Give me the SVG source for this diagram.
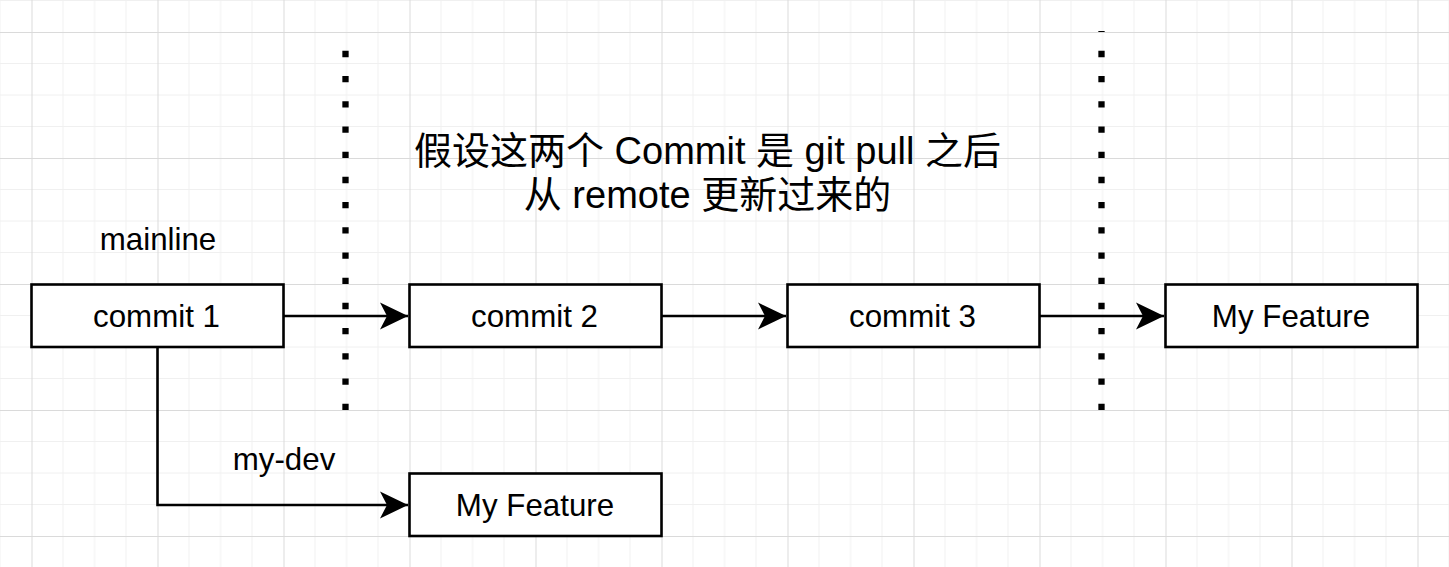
<svg xmlns="http://www.w3.org/2000/svg" width="1449" height="567" viewBox="0 0 1449 567">
  <style>
    .box { fill: #ffffff; stroke: #000000; stroke-width: 2.6; }
    .lbl { font-family: "Liberation Sans", "Noto Sans CJK SC", Arial, sans-serif; font-size: 31.3px; fill: #000000; text-anchor: middle; }
    .title { font-family: "Liberation Sans", "Noto Sans CJK SC", Arial, sans-serif; font-size: 38px; fill: #000000; text-anchor: middle; }
    .edge { fill: none; stroke: #000000; stroke-width: 2.6; }
    .dots { fill: none; stroke: #000000; stroke-width: 6.3; stroke-dasharray: 6.3 18.9; }
    .minor { stroke: #f0f0f0; stroke-width: 1; }
    .major { stroke: #dadada; stroke-width: 1; }
  </style>
  <defs>
    <pattern id="grid" patternUnits="userSpaceOnUse" x="31.5" y="32" width="126" height="126">
      <path class="minor" d="M31.5,0 V126 M63,0 V126 M94.5,0 V126 M0,31.5 H126 M0,63 H126 M0,94.5 H126"/>
      <path class="major" d="M0.5,0 V126 M0,0.5 H126"/>
    </pattern>
    <marker id="arr" markerUnits="userSpaceOnUse" markerWidth="32" markerHeight="32" viewBox="0 0 32 32" refX="29" refY="16" orient="auto">
      <path d="M29,16 L1,2.5 L8,16 L1,29.5 Z" fill="#000000"/>
    </marker>
  </defs>
  <rect x="0" y="0" width="1449" height="567" fill="#ffffff"/>
  <rect x="0" y="0" width="1449" height="567" fill="url(#grid)"/>

  <g id="separators">
    <line class="dots" x1="345.5" y1="50.85" x2="345.5" y2="411"/>
    <line class="dots" x1="1101.5" y1="31" x2="1101.5" y2="411" stroke-dashoffset="5.35"/>
  </g>

  <g id="connectors">
    <line class="edge" x1="283.5" y1="316" x2="408" y2="316" marker-end="url(#arr)"/>
    <line class="edge" x1="661.5" y1="316" x2="786" y2="316" marker-end="url(#arr)"/>
    <line class="edge" x1="1039.5" y1="316" x2="1164" y2="316" marker-end="url(#arr)"/>
    <polyline class="edge" points="157.5,347.5 157.5,505 408,505" marker-end="url(#arr)"/>
  </g>

  <g id="title">
    <text class="title" x="707.5" y="164">假设这两个 Commit 是 git pull 之后</text>
    <text class="title" x="707.5" y="208">从 remote 更新过来的</text>
  </g>

  <g id="label-mainline">
    <text class="lbl" x="158" y="250">mainline</text>
  </g>
  <g id="label-mydev">
    <text class="lbl" x="284" y="470">my-dev</text>
  </g>

  <g id="commit1">
    <rect class="box" x="31.5" y="284.5" width="252" height="62.5"/>
    <text class="lbl" x="156.5" y="326.5">commit 1</text>
  </g>
  <g id="commit2">
    <rect class="box" x="409.5" y="284.5" width="252" height="62.5"/>
    <text class="lbl" x="534.5" y="326.5">commit 2</text>
  </g>
  <g id="commit3">
    <rect class="box" x="787.5" y="284.5" width="252" height="62.5"/>
    <text class="lbl" x="912.5" y="326.5">commit 3</text>
  </g>
  <g id="feature-main">
    <rect class="box" x="1165.5" y="284.5" width="252" height="62.5"/>
    <text class="lbl" x="1291" y="326.5">My Feature</text>
  </g>
  <g id="feature-dev">
    <rect class="box" x="409.5" y="473.5" width="252" height="62.5"/>
    <text class="lbl" x="535" y="515.5">My Feature</text>
  </g>
</svg>
